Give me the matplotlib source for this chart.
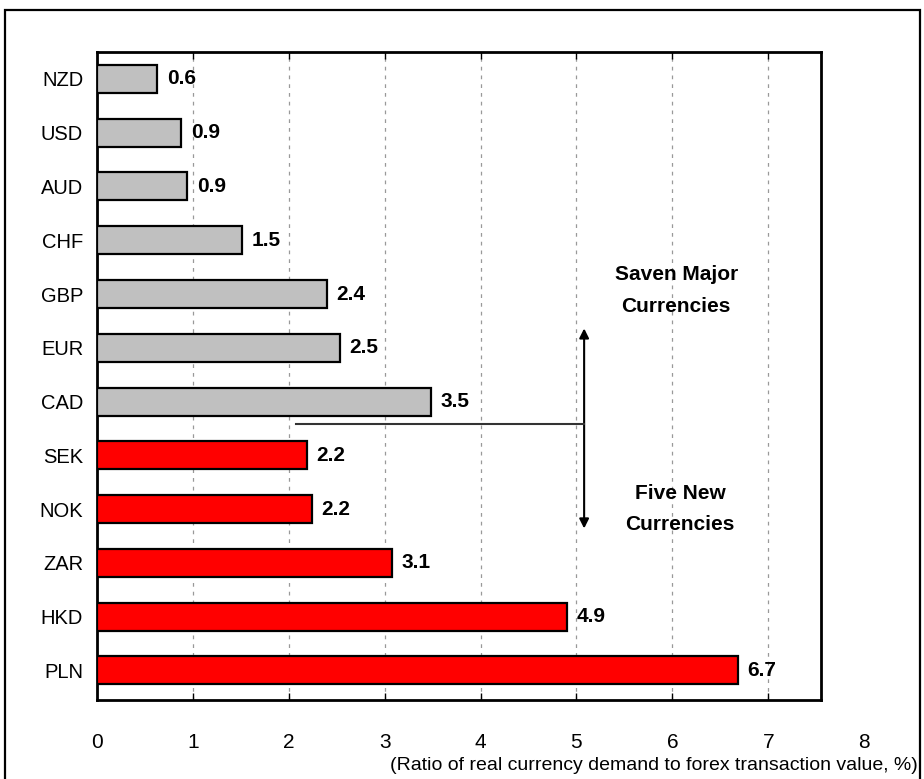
import matplotlib.pyplot as plt
from matplotlib.patches import Rectangle

plt.rcParams['font.family'] = ['Liberation Sans', 'DejaVu Sans']

# Currency order from top to bottom
currencies = ['NZD', 'USD', 'AUD', 'CHF', 'GBP', 'EUR', 'CAD',
              'SEK', 'NOK', 'ZAR', 'HKD', 'PLN']
ratios = [0.63, 0.88, 0.94, 1.51, 2.40, 2.53, 3.48,
          2.19, 2.24, 3.08, 4.90, 6.68]
groups = ['major'] * 7 + ['new'] * 5
tick_values = [0, 1, 2, 3, 4, 5, 6, 7, 8]

colors = {'major': '#c0c0c0', 'new': '#ff0000'}

fig = plt.figure(figsize=(9.24, 7.79), dpi=100)
ax = fig.add_axes([0.105, 0.1014, 0.7835, 0.8318])

# outer frame
fig.patches.append(Rectangle((5 / 924, -0.02), 915 / 924, 1.02 - 10 / 779,
                             transform=fig.transFigure, fill=False,
                             edgecolor='black', linewidth=1.6))

y = list(range(len(currencies)))
ax.barh(y, ratios, height=0.52, color=[colors[g] for g in groups],
        edgecolor='black', linewidth=1.6, zorder=3)

for yi, v in zip(y, ratios):
    ax.text(v + 0.1, yi, f'{v:.1f}', va='center', ha='left',
            fontsize=15, fontweight='bold', zorder=4)

ax.set_xlim(0, 7.55)
ax.set_ylim(11.55, -0.5)
ax.set_yticks(y)
ax.set_yticklabels(currencies, fontsize=14.5)
ax.tick_params(axis='y', length=0, pad=10)

ax.set_xticks(tick_values[1:-1])
ax.set_xticklabels([])
ax.tick_params(axis='x', direction='in', length=5, top=True, width=1)
ax.grid(axis='x', linestyle=(0, (3, 4)), color='#999999', linewidth=0.9, zorder=0)

# x tick labels drawn as text so that the last one can sit past the axis edge
trans = ax.get_xaxis_transform()
for t in tick_values:
    ax.text(t, -0.065, str(t), transform=trans, ha='center', va='center',
            fontsize=15, clip_on=False)

fig.text(918 / 924, 1 - 765 / 779,
         '(Ratio of real currency demand to forex transaction value, %)',
         ha='right', va='center', fontsize=14)

for s in ax.spines.values():
    s.set_linewidth(2)

# divider between groups and the two-way arrow
ax.plot([2.08, 5.08], [6.42, 6.42], color='#333333', linewidth=1.5, zorder=5)
ax.annotate('', xy=(5.08, 4.64), xytext=(5.08, 8.36),
            arrowprops=dict(arrowstyle='<|-|>', color='black', lw=1.5,
                            mutation_scale=14, shrinkA=0, shrinkB=0))
ax.text(6.04, 3.93, 'Saven Major\nCurrencies', ha='center', va='center',
        fontsize=15, fontweight='bold', linespacing=1.85)
ax.text(6.08, 8.0, 'Five New\nCurrencies', ha='center', va='center',
        fontsize=15, fontweight='bold', linespacing=1.85)

fig.savefig('out.png', dpi=100)
